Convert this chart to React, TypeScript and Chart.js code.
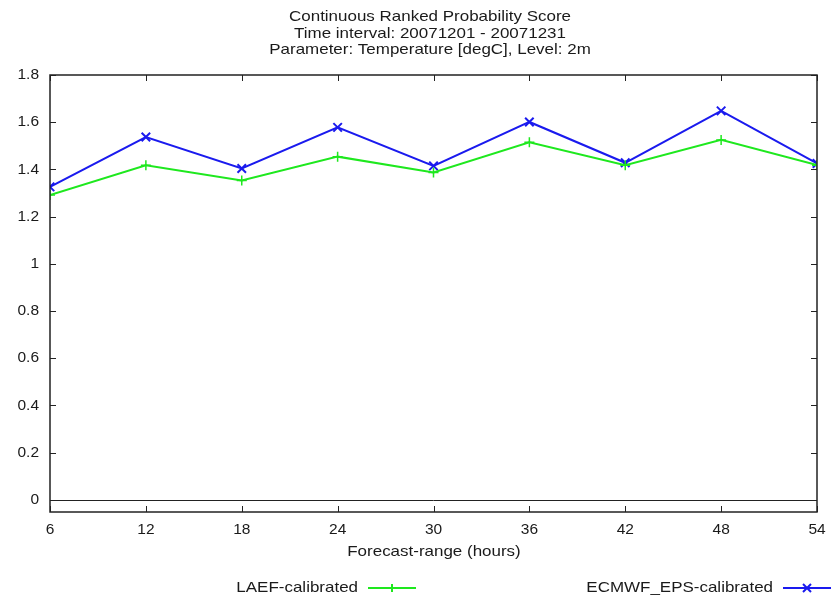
import React, { useEffect, useRef } from 'react';
import Chart from 'chart.js/auto';

const forecastHours = [6, 12, 18, 24, 30, 36, 42, 48, 54];
const laefValues = [1.291, 1.417, 1.353, 1.454, 1.387, 1.515, 1.418, 1.525, 1.418];
const ecmwfValues = [1.326, 1.537, 1.404, 1.578, 1.415, 1.601, 1.428, 1.648, 1.425];
const yTickValues = [0, 0.2, 0.4, 0.6, 0.8, 1, 1.2, 1.4, 1.6, 1.8];
const titleLines = [
  'Continuous Ranked Probability Score',
  'Time interval: 20071201 - 20071231',
  'Parameter: Temperature [degC], Level: 2m',
];
const xAxisTitle = 'Forecast-range (hours)';
const seriesNames = ['LAEF-calibrated', 'ECMWF_EPS-calibrated'];

const GREEN = '#1ee81e';
const BLUE = '#1a1aee';
const FONT = "'Liberation Sans', Arial, sans-serif";
const STRETCH = 1.17; // the original text is a bit wider than it is tall

// stretched text, like the wide helvetica of the original
function wideText(ctx: any, text: string, x: number, y: number, align: string) {
  ctx.save();
  ctx.translate(x, y);
  ctx.scale(STRETCH, 1);
  ctx.textAlign = align;
  ctx.fillText(text, 0, 0);
  ctx.restore();
}

// frame, inward ticks, zero line, title and legend in gnuplot style
const gnuplotDecor = {
  id: 'gnuplotDecor',
  afterDatasetsDraw(chart: any) {
    const { ctx, chartArea: a, scales } = chart;
    const x = scales.x;
    const y = scales.y;
    ctx.save();
    ctx.strokeStyle = '#222';
    ctx.lineWidth = 1;
    // zero line
    const y0 = Math.round(y.getPixelForValue(0)) + 0.5;
    ctx.beginPath();
    ctx.moveTo(a.left, y0);
    ctx.lineTo(a.right, y0);
    ctx.stroke();
    // ticks
    ctx.beginPath();
    yTickValues.forEach(v => {
      const p = Math.round(y.getPixelForValue(v)) + 0.5;
      ctx.moveTo(a.left, p);
      ctx.lineTo(a.left + 6, p);
      ctx.moveTo(a.right, p);
      ctx.lineTo(a.right - 6, p);
    });
    forecastHours.forEach(v => {
      const p = Math.round(x.getPixelForValue(v)) + 0.5;
      ctx.moveTo(p, a.bottom);
      ctx.lineTo(p, a.bottom - 6);
      ctx.moveTo(p, a.top);
      ctx.lineTo(p, a.top + 6);
    });
    ctx.stroke();
    // frame
    ctx.lineWidth = 1.5;
    ctx.strokeRect(a.left, a.top, a.right - a.left, a.bottom - a.top);
    ctx.restore();
  },
  afterDraw(chart: any) {
    const { ctx } = chart;
    ctx.save();
    ctx.fillStyle = '#1a1a1a';
    ctx.font = `14.5px ${FONT}`;
    ctx.textBaseline = 'middle';
    titleLines.forEach((t, i) => wideText(ctx, t, 430, 17 + i * 16.5, 'center'));
    wideText(ctx, xAxisTitle, 434, 552, 'center');
    // legend
    const entries = [
      { label: seriesNames[0], end: 358, color: GREEN, mark: 'plus' },
      { label: seriesNames[1], end: 773, color: BLUE, mark: 'cross' },
    ];
    const ly = 588;
    entries.forEach(e => {
      ctx.fillStyle = '#1a1a1a';
      wideText(ctx, e.label, e.end, ly, 'right');
      ctx.strokeStyle = e.color;
      ctx.lineWidth = 2;
      ctx.beginPath();
      ctx.moveTo(e.end + 10, ly);
      ctx.lineTo(e.end + 58, ly);
      ctx.stroke();
      const cx = e.end + 34;
      ctx.beginPath();
      if (e.mark === 'plus') {
        ctx.moveTo(cx - 4, ly);
        ctx.lineTo(cx + 4, ly);
        ctx.moveTo(cx, ly - 4);
        ctx.lineTo(cx, ly + 4);
      } else {
        ctx.moveTo(cx - 4, ly - 4);
        ctx.lineTo(cx + 4, ly + 4);
        ctx.moveTo(cx - 4, ly + 4);
        ctx.lineTo(cx + 4, ly - 4);
      }
      ctx.stroke();
    });
    ctx.restore();
  },
};

const App: React.FC = () => {
  const canvasRef = useRef<HTMLCanvasElement>(null);
  const chartRef = useRef<any>(null);

  useEffect(() => {
    if (chartRef.current) chartRef.current.destroy();
    if (!canvasRef.current) return;

    chartRef.current = new Chart(canvasRef.current, {
      type: 'line',
      data: {
        datasets: [
          {
            label: seriesNames[0],
            data: forecastHours.map((h, i) => ({ x: h, y: laefValues[i] })),
            borderColor: GREEN,
            backgroundColor: GREEN,
            borderWidth: 2,
            pointStyle: 'cross',
            pointRadius: 5,
            pointBorderWidth: 1.5,
            tension: 0,
          },
          {
            label: seriesNames[1],
            data: forecastHours.map((h, i) => ({ x: h, y: ecmwfValues[i] })),
            borderColor: BLUE,
            backgroundColor: BLUE,
            borderWidth: 2,
            pointStyle: 'crossRot',
            pointRadius: 6,
            pointBorderWidth: 2,
            tension: 0,
          },
        ],
      },
      options: {
        animation: false,
        responsive: false,
        maintainAspectRatio: false,
        layout: { padding: { top: 75, right: 23, bottom: 35, left: 0 } },
        plugins: {
          legend: { display: false },
          title: { display: false },
          tooltip: { enabled: false },
        },
        scales: {
          x: {
            type: 'linear',
            min: 6,
            max: 54,
            afterBuildTicks: (s: any) => {
              s.ticks = forecastHours.map(v => ({ value: v }));
            },
            afterFit: (s: any) => {
              s.height = 50;
            },
            grid: { display: false, drawTicks: false },
            border: { display: false },
            ticks: {
              color: '#1a1a1a',
              padding: 8,
              maxRotation: 0,
              font: { family: FONT, size: 15.5 },
              callback: (v: any) => String(v),
            },
          },
          y: {
            type: 'linear',
            min: -0.052,
            max: 1.8,
            afterBuildTicks: (s: any) => {
              s.ticks = yTickValues.map(v => ({ value: v }));
            },
            afterFit: (s: any) => {
              s.width = 50;
            },
            grid: { display: false, drawTicks: false },
            border: { display: false },
            ticks: {
              color: '#1a1a1a',
              padding: 11,
              font: { family: FONT, size: 15.5 },
              callback: (v: any) => String(Math.round(v * 10) / 10),
            },
          },
        },
      },
      plugins: [gnuplotDecor],
    });

    return () => {
      if (chartRef.current) chartRef.current.destroy();
      chartRef.current = null;
    };
  }, []);

  return (
    <div style={{ width: 840, height: 597, background: '#fff', position: 'absolute', left: 0, top: 0 }}>
      <canvas ref={canvasRef} width={840} height={597} style={{ width: 840, height: 597 }}></canvas>
    </div>
  );
};

export default App;
